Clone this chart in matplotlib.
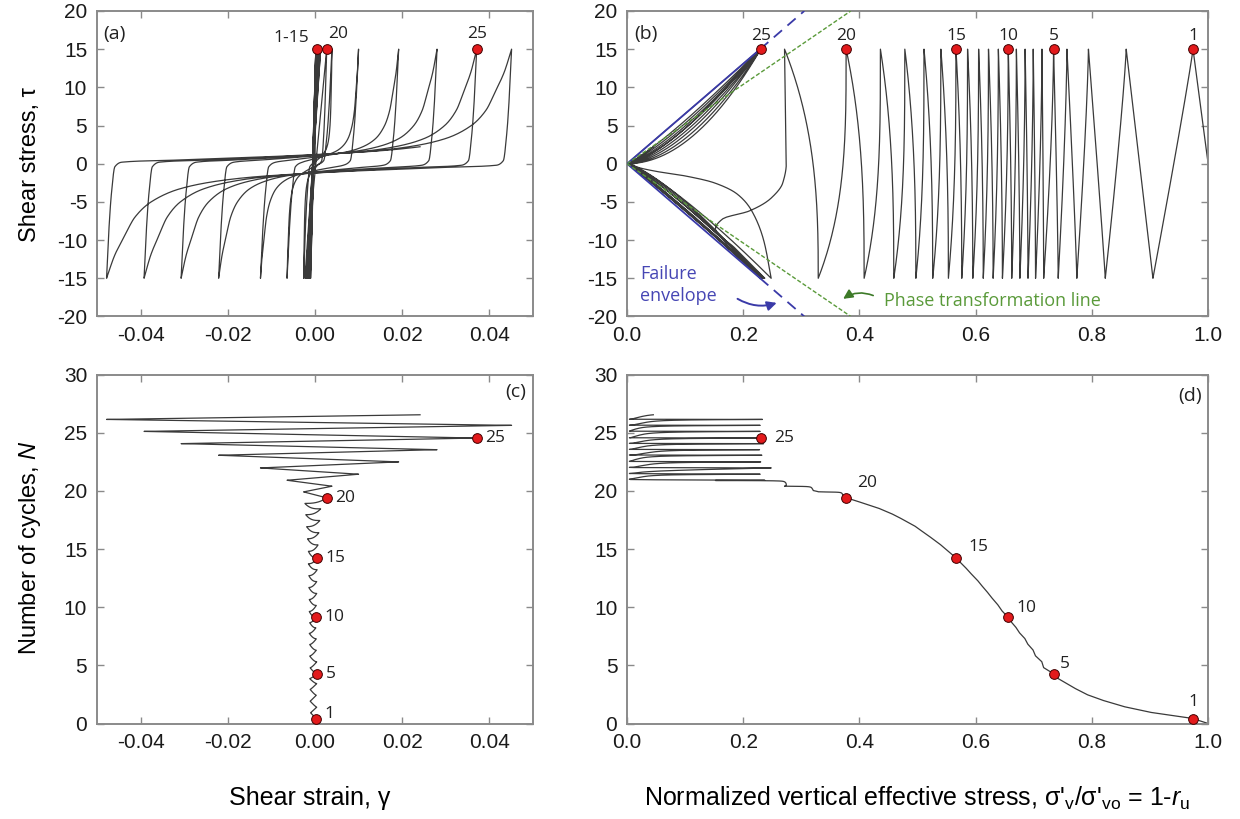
import numpy as np
import matplotlib
matplotlib.use("Agg")
import matplotlib.pyplot as plt
from matplotlib.ticker import FormatStrFormatter, MultipleLocator

plt.rcParams['font.family'] = ['Liberation Sans', 'DejaVu Sans']
plt.rcParams['mathtext.fontset'] = 'custom'
plt.rcParams['mathtext.rm'] = 'Liberation Sans'
plt.rcParams['mathtext.it'] = 'Liberation Sans:italic'
plt.rcParams['axes.unicode_minus'] = False

# ---- values (one entry per loading cycle 1..26) ----
cycles = list(range(1, 27))
# normalized vertical effective stress at tau = +15 and at the following tau = -15
sig_pos = [0.974, 0.859, 0.794, 0.757, 0.734, 0.714, 0.699, 0.685, 0.670, 0.656,
           0.639, 0.622, 0.605, 0.586, 0.566, 0.540, 0.511, 0.478, 0.436, 0.377,
           0.271, 0.229, 0.230, 0.228, 0.230, 0.229]
sig_neg = [0.905, 0.823, 0.774, 0.742, 0.717, 0.703, 0.690, 0.676, 0.662, 0.646,
           0.630, 0.613, 0.595, 0.576, 0.553, 0.526, 0.497, 0.459, 0.408, 0.329,
           0.237, 0.248, 0.232, 0.235, 0.229, 0.233]
# shear strain at the same peaks
gam_pos = [0.0003, 0.0004, 0.0003, 0.0004, 0.0005, 0.0004, 0.0003, 0.0003, 0.0002, 0.0002,
           0.0003, 0.0004, 0.0004, 0.0005, 0.0005, 0.0007, 0.0009, 0.0011, 0.0013, 0.0027,
           0.0039, 0.0100, 0.0192, 0.0280, 0.0371, 0.0451]
gam_neg = [-0.0010, -0.0011, -0.0011, -0.0012, -0.0011, -0.0012, -0.0012, -0.0013, -0.0012, -0.0013,
           -0.0013, -0.0014, -0.0014, -0.0015, -0.0015, -0.0017, -0.0019, -0.0021, -0.0023, -0.0026,
           -0.0064, -0.0125, -0.0221, -0.0307, -0.0392, -0.0478]
# number of cycles at the peaks
N_pos = [0.43, 1.40, 2.43, 3.43, 4.28, 5.30, 6.30, 7.28, 8.22, 9.12,
         10.15, 11.18, 12.20, 13.22, 14.24, 15.35, 16.40, 17.45, 18.45, 19.40,
         20.40, 21.43, 22.49, 23.54, 24.54, 25.63]
N_neg = [0.92, 1.92, 2.93, 3.86, 4.79, 5.80, 6.79, 7.75, 8.67, 9.63,
         10.66, 11.69, 12.71, 13.73, 14.80, 15.88, 16.92, 17.95, 18.92, 19.91,
         20.91, 21.97, 23.06, 24.06, 25.11, 26.14]
tau_amp = 15.0
end_gamma, end_N = 0.0241, 26.54
last_width = 0.100

# shape of one large stress-strain loop (a)
unl_dg = np.array([0.0, 0.0005, 0.0011, 0.0019, 0.0035])
unl_q = [-15, -9, -4, -0.4, 0.2]
rel_f = np.array([0.15, 0.30, 0.515, 0.63, 0.73, 0.82, 0.89, 0.93, 0.956, 0.98, 1.0])
rel_q = [0.45, 0.75, 1.3, 1.7, 2.3, 3.3, 5.0, 7.0, 9.5, 12.0, 15.0]

# special stress paths in (b)
u_path_q = [-15, -5, 0, 2.5, 4.5, 6.2, 7.2, 8.5, 11, 15]
u_path_sig = [0.271, 0.273, 0.274, 0.268, 0.248, 0.210, 0.165, 0.152, 0.185, 0.237]
arc_q = [0, 0.5, 1.0, 1.6, 2.5, 4, 6.1, 10, 15]
arc_sig = [0.004, 0.02, 0.05, 0.10, 0.15, 0.19, 0.214, 0.235, 0.248]
fly_exp = [(0.95, 0.85), (0.6, 0.9), (0.8, 0.75), (0.5, 0.95), (0.9, 0.7),
           (0.7, 0.85), (0.85, 0.8), (0.55, 0.9), (0.75, 1.0), (0.65, 0.8)]

label_cycles = [1, 5, 10, 15, 20, 25]

env_sig = [0.0, 0.229, 0.305]
env_tau = [0.0, 15.0, 20.0]
pt_sig = [0.0, 0.385]
pt_tau = [0.0, 20.0]


def pchip(x, xp, yp):
    xp = np.asarray(xp, float)
    yp = np.asarray(yp, float)
    h = np.diff(xp)
    dl = np.diff(yp) / h
    m = np.zeros_like(yp)
    for i in range(1, len(xp) - 1):
        if dl[i - 1] * dl[i] > 0:
            w1 = 2 * h[i] + h[i - 1]
            w2 = h[i] + 2 * h[i - 1]
            m[i] = (w1 + w2) / (w1 / dl[i - 1] + w2 / dl[i])
    m[0], m[-1] = dl[0], dl[-1]
    x = np.clip(x, xp[0], xp[-1])
    i = np.clip(np.searchsorted(xp, x) - 1, 0, len(h) - 1)
    t = (x - xp[i]) / h[i]
    return ((2 * t**3 - 3 * t**2 + 1) * yp[i] + (t**3 - 2 * t**2 + t) * h[i] * m[i]
            + (-2 * t**3 + 3 * t**2) * yp[i + 1] + (t**3 - t**2) * h[i] * m[i + 1])


def loop_q(u, width):
    c = min(1.0, 0.4 * width / unl_dg[-1])
    ua = unl_dg * c / width
    ub = ua[-1] + (rel_f - 0.038) / 0.962 * (1 - ua[-1])
    return pchip(u, np.r_[ua, ub], np.r_[unl_q, rel_q])


peaks = [(0.0, 1.0, 0.0, 0.0)]
for k in range(26):
    peaks.append((tau_amp, sig_pos[k], gam_pos[k], N_pos[k]))
    peaks.append((-tau_amp, sig_neg[k], gam_neg[k], N_neg[k]))

T, S, G, N = [], [], [], []
fly_i = 0
for h in range(len(peaks)):
    ta, sa, ga, na = peaks[h]
    if h == len(peaks) - 1:
        tb, sb = tau_amp, 0.229
        width = last_width
        u_end = (end_gamma - ga) / width
        u = np.unique(np.r_[np.linspace(0, u_end, 500), np.linspace(0, 0.08, 200)])
        gb = ga + width
        nb = na + (end_N - na) / u_end
    else:
        tb, sb, gb, nb = peaks[h + 1]
        width = abs(gb - ga)
        u = np.unique(np.r_[np.linspace(0, 1, 500), np.linspace(0, 0.08, 200)])
    d = np.sign(tb)
    gp = u
    if h == 0:
        tau = ta + (tb - ta) * u
        sig = sa + (sb - sa) * u
    elif h <= 38:
        a = min(1.0 + 0.06 * h, 3.2)
        if h % 2 == 0:
            a = max(1.0, 0.85 * a)
        p = u ** (1.0 / a)
        tau = d * (30 * p - 15)
        sig = sa + (sb - sa) * u
        gp = p
    else:
        tau = d * loop_q(u, width)
        q = tau * d
        if h <= 40:
            a = 3.2 if h == 39 else 2.7
            sig = sa + (sb - sa) * ((q + 15) / 30) ** a
        elif h == 41:
            sig = pchip(q, u_path_q, u_path_sig)
        elif h == 43:
            ea = fly_exp[fly_i % len(fly_exp)][0]
            sig = np.where(q < 0, sa * (np.abs(tau) / 15) ** ea, pchip(q, arc_q, arc_sig))
            fly_i += 1
        else:
            ea, eb = fly_exp[fly_i % len(fly_exp)]
            sig = np.where(q < 0, sa * (np.abs(tau) / 15) ** ea,
                           sb * (np.abs(tau) / 15) ** eb)
            fly_i += 1
    sig = np.maximum(sig, 0.004)
    T.append(tau)
    S.append(sig)
    G.append(ga + (gb - ga) * gp)
    N.append(na + (nb - na) * u)

T = np.concatenate(T)
S = np.concatenate(S)
G = np.concatenate(G)
N = np.concatenate(N)

# ---- figure ----
fig = plt.figure(figsize=(12.4, 8.19), dpi=100)
ax_a = fig.add_axes([0.0782, 0.6136, 0.3516, 0.3730])
ax_b = fig.add_axes([0.5057, 0.6136, 0.4686, 0.3730])
ax_c = fig.add_axes([0.0782, 0.1166, 0.3516, 0.4261])
ax_d = fig.add_axes([0.5057, 0.1166, 0.4686, 0.4261])

lc = '#3a3a3a'
lw = 0.9
ax_a.plot(G, T, color=lc, lw=lw)
ax_b.plot(S, T, color=lc, lw=lw)
ax_c.plot(G, N, color=lc, lw=lw)
ax_d.plot(S, N, color=lc, lw=lw)

# envelopes in (b)
blue = '#3a3aa8'
green = '#5a9a3a'
for sgn in (1, -1):
    ax_b.plot(env_sig[:2], [sgn * t for t in env_tau[:2]], color=blue, lw=1.3, zorder=3)
    ax_b.plot(env_sig[1:], [sgn * t for t in env_tau[1:]], color=blue, lw=1.3,
              ls=(0, (6, 4)), zorder=3)
    ax_b.plot(pt_sig, [sgn * t for t in pt_tau], color=green, lw=1.0,
              ls=(0, (3, 1.5)), zorder=3)

mk = dict(marker='o', ms=7, mfc='#e31a1c', mec='#400000', mew=0.7, ls='none', zorder=6)
ann = dict(family=['Open Sans', 'DejaVu Sans'], fontsize=12.5, color='#222222')

sel = [c - 1 for c in label_cycles]
ax_b.plot([sig_pos[i] for i in sel], [tau_amp] * len(sel), **mk)
ax_c.plot([gam_pos[i] for i in sel], [N_pos[i] for i in sel], **mk)
ax_d.plot([sig_pos[i] for i in sel], [N_pos[i] for i in sel], **mk)
ax_a.plot([gam_pos[14], gam_pos[19], gam_pos[24]], [tau_amp] * 3, **mk)

ax_a.annotate('1-15', (gam_pos[14], tau_amp), xytext=(-6, 2), textcoords='offset points',
              ha='right', va='bottom', **ann)
ax_a.annotate('20', (gam_pos[19], tau_amp), xytext=(1, 5), textcoords='offset points',
              ha='left', va='bottom', **ann)
ax_a.annotate('25', (gam_pos[24], tau_amp), xytext=(0, 5), textcoords='offset points',
              ha='center', va='bottom', **ann)

d_off = {1: (0, 12), 5: (8, 7), 10: (13, 7), 15: (16, 8), 20: (15, 11), 25: (17, 0)}
for c in label_cycles:
    i = c - 1
    ax_b.annotate(str(c), (sig_pos[i], tau_amp), xytext=(0, 4), textcoords='offset points',
                  ha='center', va='bottom', **ann)
    ax_c.annotate(str(c), (gam_pos[i], N_pos[i]), xytext=(6, 3 if c == 1 else 0),
                  textcoords='offset points', ha='left', va='center', **ann)
    ax_d.annotate(str(c), (sig_pos[i], N_pos[i]), xytext=d_off[c],
                  textcoords='offset points', ha='center', va='center', **ann)

ax_b.text(0.022, -15.9, 'Failure\nenvelope', color='#4646b4', fontsize=13,
          family=['Open Sans', 'DejaVu Sans'], va='center', ha='left', linespacing=1.25)
ax_b.annotate('', xy=(0.262, -18.1), xytext=(0.186, -17.5),
              arrowprops=dict(arrowstyle='-|>', color=blue, lw=1.4,
                              connectionstyle='arc3,rad=0.25', mutation_scale=14))
ax_b.text(0.442, -18.0, 'Phase transformation line', color=green, fontsize=13,
          family=['Open Sans', 'DejaVu Sans'], va='center', ha='left')
ax_b.annotate('', xy=(0.368, -17.9), xytext=(0.428, -17.4),
              arrowprops=dict(arrowstyle='-|>', color='#3d7a28', lw=1.2,
                              connectionstyle='arc3,rad=0.3', mutation_scale=14))

for ax in (ax_a, ax_c):
    ax.set_xlim(-0.05, 0.05)
    ax.xaxis.set_major_locator(MultipleLocator(0.02))
    ax.xaxis.set_major_formatter(FormatStrFormatter('%.2f'))
for ax in (ax_b, ax_d):
    ax.set_xlim(0, 1)
    ax.xaxis.set_major_locator(MultipleLocator(0.2))
    ax.xaxis.set_major_formatter(FormatStrFormatter('%.1f'))
for ax in (ax_a, ax_b):
    ax.set_ylim(-20, 20)
    ax.yaxis.set_major_locator(MultipleLocator(5))
for ax in (ax_c, ax_d):
    ax.set_ylim(0, 30)
    ax.yaxis.set_major_locator(MultipleLocator(5))

for ax in (ax_a, ax_b, ax_c, ax_d):
    ax.tick_params(direction='in', top=True, right=True, length=5, width=1,
                   color='#8a8a8a', labelcolor='#1a1a1a', labelsize=15, pad=7)
    for sp in ax.spines.values():
        sp.set_color('#8a8a8a')
        sp.set_linewidth(1.4)

pl = dict(family=['Open Sans', 'DejaVu Sans'], fontsize=14, color='#222222')
ax_a.text(0.015, 0.955, '(a)', transform=ax_a.transAxes, ha='left', va='top', **pl)
ax_b.text(0.012, 0.955, '(b)', transform=ax_b.transAxes, ha='left', va='top', **pl)
ax_c.text(0.985, 0.975, '(c)', transform=ax_c.transAxes, ha='right', va='top', **pl)
ax_d.text(0.99, 0.965, '(d)', transform=ax_d.transAxes, ha='right', va='top', **pl)

fig.text(0.024, 0.7985, 'Shear stress, τ', rotation=90, ha='center', va='center', fontsize=17)
fig.text(0.024, 0.331, 'Number of cycles, $\\it{N}$', rotation=90, ha='center', va='center',
         fontsize=17)
fig.text(0.250, 0.0256, 'Shear strain, γ', ha='center', va='center', fontsize=18)
fig.text(0.740, 0.0256,
         "Normalized vertical effective stress, σ'$_{\\rm v}$/σ'$_{\\rm vo}$ = 1-$\\it{r}$$_{\\rm u}$",
         ha='center', va='center', fontsize=18)

fig.savefig('out.png', dpi=100)
